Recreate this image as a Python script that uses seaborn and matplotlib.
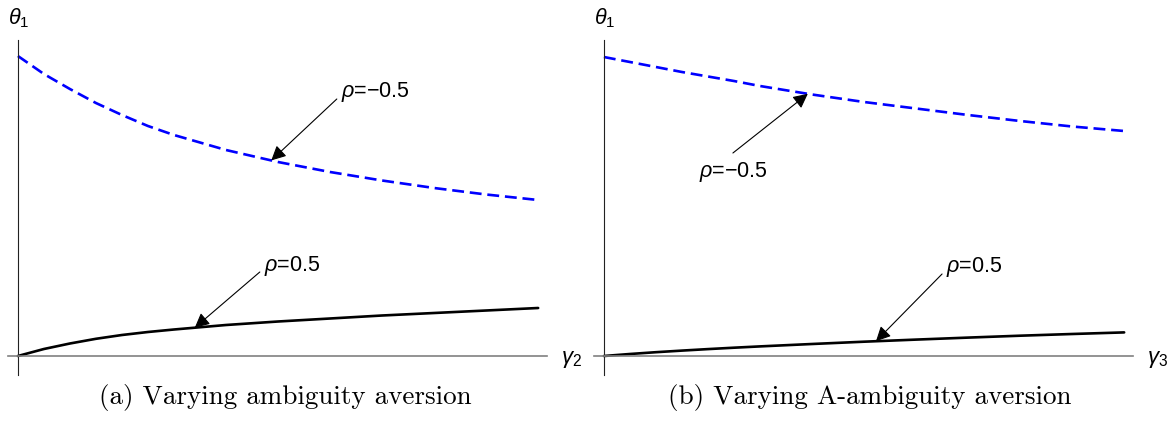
import matplotlib
matplotlib.use('Agg')
import matplotlib.pyplot as plt
import numpy as np
import seaborn as sns

# values (theta_1 against gamma, arbitrary units)
gamma = [0, 0.5, 1, 1.5, 2, 2.5, 3, 4, 5, 6, 7, 8, 9, 10]
theta_a_neg = [3.00, 2.82, 2.67, 2.53, 2.41, 2.30, 2.21, 2.06, 1.94, 1.84, 1.755, 1.68, 1.615, 1.56]
theta_a_pos = [0.0, 0.07, 0.125, 0.172, 0.21, 0.24, 0.265, 0.31, 0.345, 0.375, 0.405, 0.43, 0.455, 0.48]
theta_b_neg = [2.99, 2.94, 2.89, 2.84, 2.795, 2.75, 2.70, 2.615, 2.54, 2.475, 2.41, 2.35, 2.295, 2.25]
theta_b_pos = [0.0, 0.02, 0.038, 0.054, 0.069, 0.083, 0.096, 0.12, 0.143, 0.164, 0.184, 0.203, 0.22, 0.236]

labels_rho = ['$\\rho$=\u22120.5', '$\\rho$=0.5']
x_labels = ['$\\gamma_2$', '$\\gamma_3$']
captions = ['(a) Varying ambiguity aversion', '(b) Varying A-ambiguity aversion']

sns.set_style('white')
plt.rcParams['font.family'] = ['Liberation Sans', 'DejaVu Sans']
plt.rcParams['text.color'] = 'black'
plt.rcParams['mathtext.fontset'] = 'custom'
plt.rcParams['mathtext.rm'] = 'Liberation Sans'
plt.rcParams['mathtext.it'] = 'Liberation Sans:italic'

W, H = 1170, 423
fig = plt.figure(figsize=(W / 100, H / 100), dpi=100)


def make_axes(left_px):
    # axes box in pixels: 539 wide, from y=40 to y=375
    ax = fig.add_axes([left_px / W, (H - 375) / H, 539 / W, 335 / H])
    ax.set_xlim(-0.19, 10.17)
    ax.set_ylim(-0.19, 3.16)
    for s in ['top', 'right']:
        ax.spines[s].set_visible(False)
    ax.spines['left'].set_position(('data', 0))
    ax.spines['bottom'].set_position(('data', 0))
    ax.spines['left'].set_color('#222222')
    ax.spines['left'].set_linewidth(0.8)
    ax.spines['bottom'].set_color('#808080')
    ax.spines['bottom'].set_linewidth(1.2)
    ax.set_xticks([])
    ax.set_yticks([])
    ax.set_xlabel('')
    ax.set_ylabel('')
    return ax


def draw_panel(ax, neg, pos, xlab, neg_tip_x, neg_start, neg_text, pos_tip_x, pos_start, pos_text):
    sns.lineplot(x=gamma, y=neg, ax=ax, color='#0000FF', lw=1.9,
                 linestyle=(0, (4.5, 2.2)))
    sns.lineplot(x=gamma, y=pos, ax=ax, color='black', lw=1.9)
    arrow = dict(arrowstyle='-|>', mutation_scale=22, lw=0.8, color='black',
                 shrinkA=0, shrinkB=0)
    ax.annotate('', xy=(neg_tip_x, np.interp(neg_tip_x, gamma, neg)),
                xytext=neg_start, arrowprops=arrow)
    ax.annotate('', xy=(pos_tip_x, np.interp(pos_tip_x, gamma, pos)),
                xytext=pos_start, arrowprops=arrow)
    ax.text(neg_text[0], neg_text[1], labels_rho[0], fontsize=15.5,
            ha='left', va='center')
    ax.text(pos_text[0], pos_text[1], labels_rho[1], fontsize=15.5,
            ha='left', va='center')
    ax.text(-0.19, 3.38, '$\\theta_1$', fontsize=15.5, ha='left',
            va='center', clip_on=False)
    ax.text(10.44, -0.03, xlab, fontsize=16, ha='left', va='center',
            clip_on=False)


ax_a = make_axes(8)
draw_panel(ax_a, theta_a_neg, theta_a_pos, x_labels[0],
           4.87, (6.13, 2.57), (6.21, 2.64),
           3.40, (4.65, 0.84), (4.73, 0.90))

ax_b = make_axes(594)
draw_panel(ax_b, theta_b_neg, theta_b_pos, x_labels[1],
           3.92, (2.48, 2.03), (1.83, 1.84),
           5.23, (6.50, 0.82), (6.58, 0.89))

fig.text(285 / W, 1 - 397 / H, captions[0], family='cmr10', fontsize=19.5,
         ha='center', va='center')
fig.text(870 / W, 1 - 397 / H, captions[1], family='cmr10', fontsize=19.5,
         ha='center', va='center')

fig.savefig('out.png', dpi=100)
